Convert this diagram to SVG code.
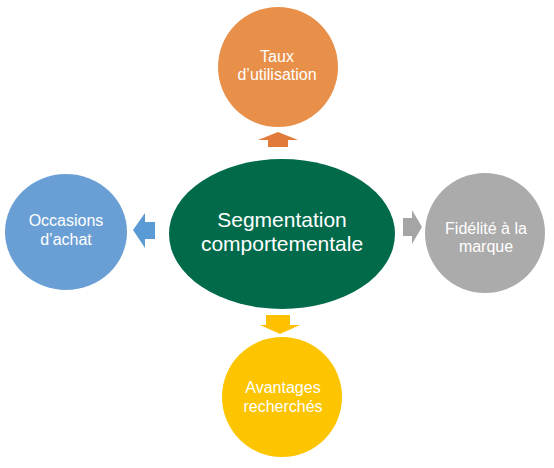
<svg xmlns="http://www.w3.org/2000/svg" width="554" height="468" viewBox="0 0 554 468">
<style>
text{font-family:"Liberation Sans",Arial,sans-serif;fill:#fff;text-anchor:middle}
.s{font-size:16px}
.c{font-size:21px}
</style>
<rect width="554" height="468" fill="#fff"/>
<g id="connectors">
<polygon points="278,132 298,140 288,140 288,147 268,147 268,140 258,140" fill="#E07B39"/>
<polygon points="133,230 145,213 145,222 155,222 155,239 145,239 145,248" fill="#5B9BD5"/>
<polygon points="422,227 412,210 412,218 403,218 403,236 412,236 412,244" fill="#A5A5A5"/>
<polygon points="280,334 300,325 290,325 290,315 266,315 266,325 260,325" fill="#FFC000"/>
</g>
<g id="center">
<ellipse cx="282" cy="234" rx="113" ry="75" fill="#006A4B"/>
<text class="c" x="282" y="227">Segmentation</text>
<text class="c" x="282" y="251">comportementale</text>
</g>
<g id="top">
<circle cx="278" cy="67" r="60" fill="#E8904A"/>
<text class="s" x="277" y="62">Taux</text>
<text class="s" x="277" y="80">d’utilisation</text>
</g>
<g id="left">
<ellipse cx="66" cy="232" rx="61" ry="58" fill="#6A9FD6"/>
<text class="s" x="66" y="226">Occasions</text>
<text class="s" x="66" y="245">d’achat</text>
</g>
<g id="right">
<circle cx="485" cy="233" r="60" fill="#ABABAB"/>
<text class="s" x="486" y="234">Fidélité à la</text>
<text class="s" x="486" y="252">marque</text>
</g>
<g id="bottom">
<circle cx="282" cy="397" r="60" fill="#FDC500"/>
<text class="s" x="283" y="393">Avantages</text>
<text class="s" x="283" y="412">recherchés</text>
</g>
</svg>
